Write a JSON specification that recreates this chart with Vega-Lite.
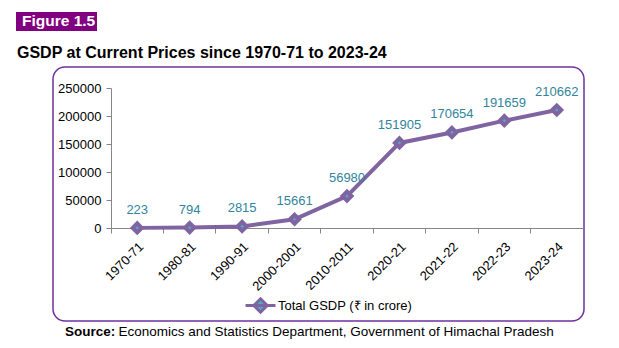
{
  "$schema": "https://vega.github.io/schema/vega-lite/v6.json",
  "width": 531,
  "height": 254,
  "autosize": {"type": "none"},
  "padding": {"left": 53, "top": 67, "right": 35, "bottom": 27},
  "background": "white",
  "title": {
    "text": "GSDP at Current Prices since 1970-71 to 2023-24",
    "anchor": "start",
    "frame": "group",
    "dx": -36,
    "dy": 53,
    "fontSize": 16,
    "fontWeight": "bold",
    "color": "#000000",
    "font": "Liberation Sans"
  },
  "data": {
    "values": [
      {"period": "1970-71", "gsdp": 223},
      {"period": "1980-81", "gsdp": 794},
      {"period": "1990-91", "gsdp": 2815},
      {"period": "2000-2001", "gsdp": 15661},
      {"period": "2010-2011", "gsdp": 56980},
      {"period": "2020-21", "gsdp": 151905},
      {"period": "2021-22", "gsdp": 170654},
      {"period": "2022-23", "gsdp": 191659},
      {"period": "2023-24", "gsdp": 210662}
    ]
  },
  "encoding": {
    "x": {
      "field": "period",
      "type": "nominal",
      "sort": null,
      "scale": {"type": "band", "range": [58, 530], "paddingInner": 0, "paddingOuter": 0},
      "axis": {
        "title": null,
        "bandPosition": 0,
        "labelOffset": 0,
        "labelAngle": -45,
        "labelFontSize": 13,
        "labelColor": "#000000",
        "labelPadding": 7,
        "tickSize": 5,
        "tickColor": "#868686",
        "domainColor": "#868686",
        "offset": -93,
        "grid": false
      }
    },
    "y": {
      "field": "gsdp",
      "type": "quantitative",
      "scale": {"domain": [0, 250000], "range": [161, 21], "nice": false, "zero": true},
      "axis": {
        "title": null,
        "values": [0, 50000, 100000, 150000, 200000, 250000],
        "format": "d",
        "offset": -58,
        "tickSize": 5,
        "labelPadding": 5,
        "labelFontSize": 13,
        "labelColor": "#000000",
        "tickColor": "#868686",
        "domainColor": "#868686",
        "grid": false
      }
    }
  },
  "layer": [
    {
      "mark": {"type": "line", "strokeWidth": 4},
      "encoding": {
        "color": {
          "datum": "Total GSDP (₹ in crore)",
          "type": "nominal",
          "scale": {"range": ["#8064A2"]},
          "legend": {
            "title": null,
            "orient": "none",
            "legendX": 191,
            "legendY": 222,
            "symbolType": "M-1,0L1,0M0,-0.45L0.45,0L0,0.45L-0.45,0Z",
            "symbolSize": 900,
            "symbolStrokeWidth": 3,
            "labelFontSize": 13,
            "labelColor": "#000000",
            "labelOffset": 1,
            "labelLimit": 400,
            "encode": {
              "symbols": {
                "update": {
                  "fill": {"value": "#4BACC6"},
                  "stroke": {"value": "#8064A2"},
                  "strokeWidth": {"value": 3},
                  "fillOpacity": {"value": 1},
                  "opacity": {"value": 1}
                }
              }
            }
          }
        }
      }
    },
    {
      "mark": {"type": "point", "filled": false, "fill": "#4BACC6", "fillOpacity": 1, "stroke": "#8064A2", "strokeWidth": 4, "size": 81, "opacity": 1},
      "encoding": {
        "shape": {
          "datum": "Economics and Statistics Department, Government of Himachal Pradesh",
          "type": "nominal",
          "scale": {"range": ["diamond"]},
          "legend": {
            "title": "Source:",
            "titleOrient": "left",
            "titleFontWeight": "bold",
            "titleFontSize": 13.5,
            "titleColor": "#000000",
            "titlePadding": -11,
            "orient": "none",
            "legendX": 12,
            "legendY": 258,
            "direction": "horizontal",
            "symbolSize": 0,
            "symbolOpacity": 0,
            "symbolStrokeWidth": 0,
            "labelOffset": 0,
            "labelFontSize": 13.5,
            "labelColor": "#000000",
            "labelLimit": 600
          }
        }
      }
    },
    {
      "mark": {"type": "text", "dy": -14, "baseline": "alphabetic", "color": "#31859C"},
      "encoding": {
        "text": {"field": "gsdp", "type": "quantitative", "format": "d"},
        "size": {
          "datum": "Figure 1.5",
          "type": "ordinal",
          "scale": {"range": [13, 13]},
          "legend": {
            "title": null,
            "orient": "none",
            "legendX": -37,
            "legendY": -55,
            "fillColor": "#800080",
            "padding": 1,
            "symbolOpacity": 0,
            "symbolStrokeWidth": 0,
            "labelOffset": -10.5,
            "labelColor": "#FFFFFF",
            "labelFontSize": 15.5,
            "labelFontWeight": "bold"
          }
        }
      }
    }
  ],
  "config": {
    "font": "Liberation Sans",
    "view": {"stroke": "#7030A0", "strokeWidth": 1.5, "cornerRadius": 12}
  }
}
